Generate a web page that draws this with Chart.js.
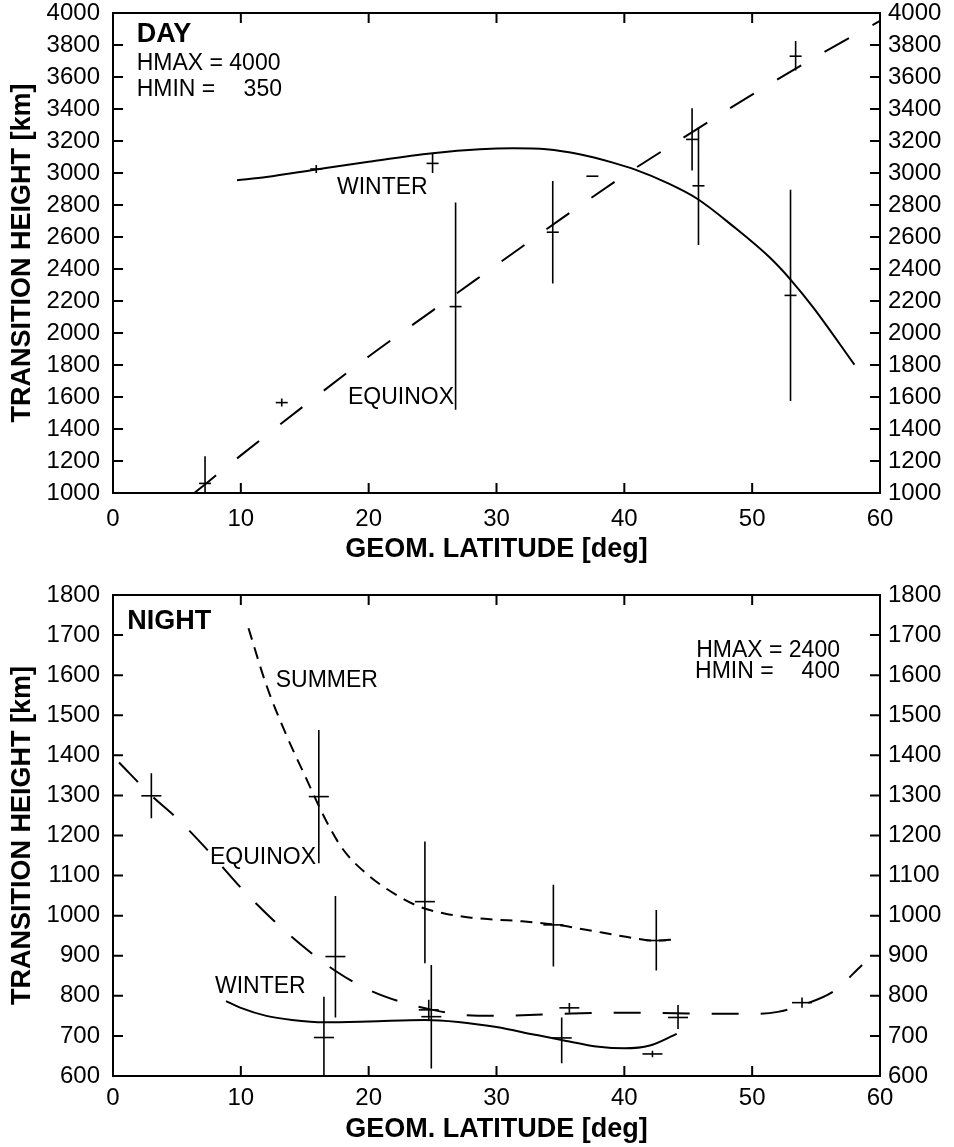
<!DOCTYPE html>
<html>
<head>
<meta charset="utf-8">
<title>Transition height vs. latitude</title>
<script src="https://cdn.jsdelivr.net/npm/chart.js@4.4.1/dist/chart.umd.min.js"></script>
<style>
    html, body { margin: 0; padding: 0; background: #fff; }
    canvas { display: block; }
</style>
</head>
<body>
<canvas id="day-chart" width="954" height="573"></canvas>
<canvas id="night-chart" width="954" height="574"></canvas>
<script>
(function () {
    "use strict";

    // Axis ticks
    var latTicks = [0, 10, 20, 30, 40, 50, 60];
    var dayHeightTicks = [1000, 4000, 200];     // min, max, step
    var nightHeightTicks = [600, 1800, 100];

    // Day - winter measurements
    var dayWinterLat = [15.9, 25.0, 37.5, 45.8, 53.0];
    var dayWinterH   = [3025, 3060, 2980, 2920, 2235];
    var dayWinterLo  = [3000, 3000, 2980, 2550, 1575];
    var dayWinterHi  = [3050, 3120, 2980, 3285, 2895];

    // Day - equinox measurements
    var dayEquinoxLat = [7.2, 13.2, 26.8, 34.4, 45.3, 53.4];
    var dayEquinoxH   = [1060, 1565, 2165, 2630, 3210, 3730];
    var dayEquinoxLo  = [980, 1540, 1520, 2310, 3015, 3640];
    var dayEquinoxHi  = [1230, 1590, 2815, 2950, 3405, 3825];

    // Day - fitted curves
    var dayWinterFitLat = [9.7, 12, 15.9, 20, 25, 28.7, 31.3, 33.9, 36.5, 39.1, 40.8, 43.3, 45.7, 48.5, 51.4, 53, 54.8, 58];
    var dayWinterFitH   = [2955, 2975, 3022, 3070, 3123, 3148, 3154, 3148, 3117, 3065, 3023, 2940, 2839, 2668, 2470, 2334, 2157, 1802];
    var dayEquinoxFitLat = [6.36, 10, 15, 20, 25, 30, 35, 40, 45, 50, 55, 60];
    var dayEquinoxFitH   = [1000, 1235, 1548, 1853, 2140, 2425, 2710, 2985, 3240, 3490, 3727, 3951];

    // Night - summer measurements
    var nightSummerLat = [16.1, 24.4, 34.45, 42.5];
    var nightSummerH   = [1297, 1035, 977, 938];
    var nightSummerLo  = [1131, 881, 873, 863];
    var nightSummerHi  = [1463, 1185, 1077, 1014];

    // Night - equinox measurements
    var nightEquinoxLat = [3.0, 17.4, 24.7, 35.7, 44.2, 53.9];
    var nightEquinoxH   = [1299, 898, 765, 770, 746, 783];
    var nightEquinoxLo  = [1243, 746, 740, 758, 717, 770];
    var nightEquinoxHi  = [1355, 1049, 790, 782, 777, 796];

    // Night - winter measurements
    var nightWinterLat = [16.5, 24.9, 35.1, 42.2];
    var nightWinterH   = [696, 748, 695, 655];
    var nightWinterLo  = [590, 619, 632, 647];
    var nightWinterHi  = [798, 877, 746, 663];

    // Night - fitted curves
    var nightSummerFitLat = [10.6, 12, 13.5, 15, 16.7, 18, 20, 22, 24, 26, 28, 30, 32, 34.5, 37, 40, 42.3, 44.2];
    var nightSummerFitH   = [1717, 1575, 1455, 1350, 1235, 1165, 1100, 1055, 1022, 1005, 995, 990, 986, 978, 965, 948, 938, 941];
    var nightEquinoxFitLat = [0.47, 3, 5, 7.5, 10, 12.5, 15, 17.5, 20, 22.5, 25, 27.5, 30, 35, 40, 45, 50, 52, 54, 56.4, 58.6];
    var nightEquinoxFitH   = [1382, 1300, 1243, 1160, 1070, 990, 920, 860, 815, 785, 765, 752, 750, 755, 758, 756, 755, 760, 778, 812, 877];
    var nightWinterFitLat = [8.84, 10, 12, 14, 16.5, 20, 24.4, 27, 30, 33, 35.1, 38, 40, 42, 44.1];
    var nightWinterFitH   = [787, 770, 750, 740, 734, 736, 740, 735, 722, 703, 690, 673, 669, 676, 705];

    var family = "'Liberation Sans', Arial, Helvetica, sans-serif";
    var tickFont = {family: family, size: 24};
    var titleFont = {family: family, size: 27, weight: 'bold'};

    Chart.defaults.color = '#000';
    Chart.defaults.font.family = family;

    function xy(lat, h) {
        return lat.map(function (x, i) { return {x: x, y: h[i]}; });
    }

    function fitLine(lat, h, dash) {
        return {
            type: 'line',
            data: xy(lat, h),
            borderColor: '#000',
            borderWidth: 2,
            borderDash: dash,
            pointRadius: 0,
            fill: false,
            showLine: true,
            cubicInterpolationMode: 'monotone'
        };
    }

    function measured(lat, h, lo, hi, cap) {
        return {
            data: xy(lat, h),
            errLo: lo,
            errHi: hi,
            showLine: false,
            pointStyle: 'line',
            pointRadius: cap,
            pointBorderWidth: 1.6,
            pointBorderColor: '#000',
            pointBackgroundColor: '#000',
            borderColor: '#000'
        };
    }

    // Box around the plot with inward tick marks on all four sides
    var frame = {
        id: 'frame',
        afterDraw: function (chart) {
            var ctx = chart.ctx, a = chart.chartArea;
            var xs = chart.scales.x, ys = chart.scales.y;
            ctx.save();
            ctx.strokeStyle = '#000';
            ctx.lineWidth = 2;
            ctx.strokeRect(a.left, a.top, a.right - a.left, a.bottom - a.top);
            ctx.beginPath();
            xs.ticks.forEach(function (t) {
                var px = xs.getPixelForValue(t.value);
                ctx.moveTo(px, a.bottom); ctx.lineTo(px, a.bottom - 10);
                ctx.moveTo(px, a.top); ctx.lineTo(px, a.top + 10);
            });
            ys.ticks.forEach(function (t) {
                var py = ys.getPixelForValue(t.value);
                ctx.moveTo(a.left, py); ctx.lineTo(a.left + 10, py);
                ctx.moveTo(a.right, py); ctx.lineTo(a.right - 10, py);
            });
            ctx.stroke();
            ctx.restore();
        }
    };

    // Vertical error bars for the measured points
    var errorBars = {
        id: 'errorBars',
        afterDatasetsDraw: function (chart) {
            var ctx = chart.ctx, a = chart.chartArea;
            var xs = chart.scales.x, ys = chart.scales.y;
            ctx.save();
            ctx.beginPath();
            ctx.rect(a.left, a.top, a.right - a.left, a.bottom - a.top);
            ctx.clip();
            ctx.strokeStyle = '#000';
            ctx.lineWidth = 1.6;
            chart.data.datasets.forEach(function (ds) {
                if (!ds.errLo) return;
                ctx.beginPath();
                ds.data.forEach(function (p, i) {
                    var px = xs.getPixelForValue(p.x);
                    ctx.moveTo(px, ys.getPixelForValue(ds.errLo[i]));
                    ctx.lineTo(px, ys.getPixelForValue(ds.errHi[i]));
                });
                ctx.stroke();
            });
            ctx.restore();
        }
    };

    // Text labels placed in data coordinates
    function notes(items) {
        return {
            id: 'notes',
            afterDraw: function (chart) {
                var ctx = chart.ctx;
                var xs = chart.scales.x, ys = chart.scales.y;
                ctx.save();
                ctx.fillStyle = '#000';
                ctx.textBaseline = 'alphabetic';
                items.forEach(function (n) {
                    ctx.font = (n.bold ? 'bold 27px ' : '23px ') + family;
                    ctx.textAlign = n.align || 'left';
                    ctx.fillText(n.text, xs.getPixelForValue(n.x), ys.getPixelForValue(n.y));
                });
                ctx.restore();
            }
        };
    }

    function plain(v) { return String(v); }

    // keep the plot box where the axes put it, no extra room for label overhang
    function fixWidth(w) {
        return function (s) {
            s.width = w;
            s.paddingTop = 0;
            s.paddingBottom = 0;
        };
    }

    function buildChart(id, o) {
        var ctx = document.getElementById(id).getContext('2d');
        return new Chart(ctx, {
            type: 'scatter',
            data: {datasets: o.datasets},
            options: {
                responsive: false,
                animation: false,
                layout: {padding: {top: o.top, left: 0, right: 0, bottom: 0}},
                plugins: {legend: {display: false}, tooltip: {enabled: false}},
                scales: {
                    x: {
                        type: 'linear',
                        position: 'bottom',
                        min: latTicks[0],
                        max: latTicks[latTicks.length - 1],
                        afterFit: function (s) {
                            s.height = o.xHeight;
                            s.paddingLeft = 0;
                            s.paddingRight = 0;
                        },
                        afterBuildTicks: function (s) { s.ticks = latTicks.map(function (v) { return {value: v}; }); },
                        grid: {display: false, drawTicks: false},
                        border: {display: false},
                        ticks: {padding: o.xTickPad, font: tickFont, callback: plain, maxRotation: 0, autoSkip: false},
                        title: {display: true, text: 'GEOM. LATITUDE [deg]', font: titleFont, padding: {top: 0, bottom: o.xTitlePad}}
                    },
                    y: {
                        type: 'linear',
                        position: 'left',
                        min: o.h[0],
                        max: o.h[1],
                        afterFit: fixWidth(113),
                        grid: {display: false, drawTicks: false},
                        border: {display: false},
                        ticks: {stepSize: o.h[2], padding: 13, font: tickFont, callback: plain, autoSkip: false},
                        title: {display: true, text: 'TRANSITION HEIGHT [km]', font: titleFont, padding: {top: 6, bottom: 0}}
                    },
                    y2: {
                        type: 'linear',
                        position: 'right',
                        min: o.h[0],
                        max: o.h[1],
                        afterFit: fixWidth(74),
                        grid: {display: false, drawTicks: false},
                        border: {display: false},
                        ticks: {stepSize: o.h[2], padding: 8, font: tickFont, callback: plain, autoSkip: false}
                    }
                }
            },
            plugins: [frame, errorBars, notes(o.notes)]
        });
    }

    // Day Chart
    buildChart('day-chart', {
        top: 13,
        xHeight: 80,
        xTickPad: 12,
        xTitlePad: 7,
        h: dayHeightTicks,
        datasets: [
            fitLine(dayWinterFitLat, dayWinterFitH, []),
            fitLine(dayEquinoxFitLat, dayEquinoxFitH, [28, 27]),
            measured(dayWinterLat, dayWinterH, dayWinterLo, dayWinterHi, 6),
            measured(dayEquinoxLat, dayEquinoxH, dayEquinoxLo, dayEquinoxHi, 6)
        ],
        notes: [
            {text: 'DAY', x: 1.85, y: 3818, bold: true},
            {text: 'HMAX = 4000', x: 1.85, y: 3643},
            {text: 'HMIN =', x: 1.85, y: 3482},
            {text: '350', x: 13.22, y: 3482, align: 'right'},
            {text: 'WINTER', x: 17.52, y: 2871},
            {text: 'EQUINOX', x: 18.38, y: 1557}
        ]
    });

    // Night Chart
    buildChart('night-chart', {
        top: 22,
        xHeight: 71,
        xTickPad: 8,
        xTitlePad: 1,
        h: nightHeightTicks,
        datasets: [
            fitLine(nightSummerFitLat, nightSummerFitH, [12, 8]),
            fitLine(nightEquinoxFitLat, nightEquinoxFitH, [27, 22]),
            fitLine(nightWinterFitLat, nightWinterFitH, []),
            measured(nightSummerLat, nightSummerH, nightSummerLo, nightSummerHi, 10),
            measured(nightEquinoxLat, nightEquinoxH, nightEquinoxLo, nightEquinoxHi, 10),
            measured(nightWinterLat, nightWinterH, nightWinterLo, nightWinterHi, 10)
        ],
        notes: [
            {text: 'NIGHT', x: 1.12, y: 1714, bold: true},
            {text: 'HMAX = 2400', x: 56.87, y: 1646, align: 'right'},
            {text: 'HMIN =', x: 45.53, y: 1592},
            {text: '400', x: 56.87, y: 1592, align: 'right'},
            {text: 'SUMMER', x: 12.73, y: 1570},
            {text: 'EQUINOX', x: 7.59, y: 1129},
            {text: 'WINTER', x: 7.98, y: 806}
        ]
    });
})();
</script>
</body>
</html>
